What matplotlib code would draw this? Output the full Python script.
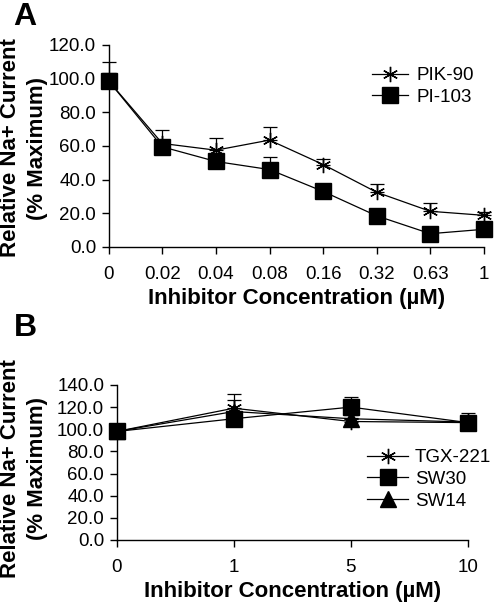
import numpy as np
import matplotlib
matplotlib.use("Agg")
import matplotlib.pyplot as plt

plt.rcParams['font.family'] = ['Liberation Sans', 'DejaVu Sans']

# Panel A data
conc_a = ['0', '0.02', '0.04', '0.08', '0.16', '0.32', '0.63', '1']
pik90 = [98.6, 61.5, 57.5, 63.5, 49.0, 32.5, 21.2, 18.8]
pik90_err = [11.5, 8.0, 7.0, 7.5, 3.5, 5.0, 4.8, 2.0]
pi103 = [98.6, 59.5, 50.8, 46.0, 33.0, 18.5, 7.9, 10.5]
pi103_err = [5.0, 3.0, 3.0, 7.5, 2.5, 2.0, 2.0, 2.0]

# Panel B data
conc_b = ['0', '1', '5', '10']
tgx221 = [98.0, 119.0, 107.0, 106.0]
tgx221_err = [2.0, 12.5, 3.0, 3.0]
sw30 = [98.0, 109.5, 120.0, 106.0]
sw30_err = [2.0, 3.0, 9.5, 9.0]
sw14 = [98.0, 116.0, 109.5, 106.5]
sw14_err = [2.0, 10.0, 3.0, 3.0]

W, H = 495.0, 607.0
fig = plt.figure(figsize=(4.95, 6.07), dpi=100)
axA = fig.add_axes([0.2196, 0.5931, 0.758, 0.3328])
axB = fig.add_axes([0.2357, 0.1104, 0.7097, 0.2554])

tick_fs = 13.5
lab_fs = 16


def style_axis(ax, labels, ymax, ystep):
    x = np.arange(len(labels))
    ax.set_xlim(0, len(labels) - 1)
    ax.set_ylim(0, ymax)
    ax.set_xticks(x)
    ax.set_xticklabels(labels, fontsize=tick_fs)
    yt = np.arange(0, ymax + 0.1, ystep)
    ax.set_yticks(yt)
    ax.set_yticklabels(['%.1f' % v for v in yt], fontsize=tick_fs)
    for s in ['top', 'right']:
        ax.spines[s].set_visible(False)
    for s in ['left', 'bottom']:
        ax.spines[s].set_linewidth(1.0)
    ax.tick_params(direction='out', length=5, width=1.0, pad=4)
    ax.tick_params(axis='x', pad=9)
    ax.set_xlabel('Inhibitor Concentration (\u00b5M)', fontsize=lab_fs,
                  fontweight='bold', labelpad=3)


def series(ax, y, err, marker, ms, label):
    x = np.arange(len(y))
    ax.errorbar(x, y, yerr=[np.zeros(len(err)), err], fmt='none',
                ecolor='black', elinewidth=0.9, capsize=5, capthick=0.9,
                clip_on=False, zorder=2)
    ax.plot(x, y, color='black', lw=0.9, marker=marker, ms=ms,
            mfc='black', mec='black', mew=1.0, label=label,
            clip_on=False, zorder=3)


style_axis(axA, conc_a, 120, 20)
series(axA, pik90, pik90_err, (6, 2, 0), 11, 'PIK-90')
series(axA, pi103, pi103_err, 's', 11, 'PI-103')
axA.legend(loc='upper left', bbox_to_anchor=(372 / W, 1 - 67 / H),
           bbox_transform=fig.transFigure, frameon=False, fontsize=tick_fs,
           handlelength=1.9, handletextpad=0.5, labelspacing=0.25,
           borderpad=0, borderaxespad=0)

style_axis(axB, conc_b, 140, 20)
series(axB, tgx221, tgx221_err, (6, 2, 0), 11, 'TGX-221')
series(axB, sw30, sw30_err, 's', 11, 'SW30')
series(axB, sw14, sw14_err, '^', 11, 'SW14')
axB.legend(loc='upper left', bbox_to_anchor=(367 / W, 1 - 449 / H),
           bbox_transform=fig.transFigure, frameon=False, fontsize=tick_fs,
           handlelength=2.2, handletextpad=0.35, labelspacing=0.25,
           borderpad=0, borderaxespad=0)

for yc in [148, 469]:
    fig.text(11 / W, 1 - yc / H, 'Relative Na+ Current', rotation=90,
             ha='center', va='center', fontsize=lab_fs, fontweight='bold')
    fig.text(38 / W, 1 - yc / H, '(% Maximum)', rotation=90,
             ha='center', va='center', fontsize=lab_fs, fontweight='bold')

fig.text(25 / W, 1 - 17 / H, 'A', ha='center', va='center', fontsize=23,
         fontweight='bold')
fig.text(25 / W, 1 - 328 / H, 'B', ha='center', va='center', fontsize=23,
         fontweight='bold')

fig.savefig('out.png', dpi=100)
